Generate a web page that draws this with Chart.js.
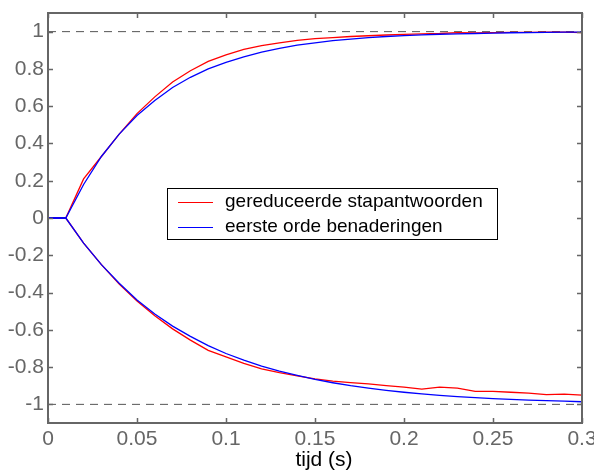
<!DOCTYPE html>
<html>
<head>
<meta charset="utf-8">
<script src="https://cdn.jsdelivr.net/npm/chart.js@4/dist/chart.umd.min.js"></script>
<style>
html, body { margin: 0; padding: 0; background: #fff; }
</style>
</head>
<body>
<canvas id="chart" width="594" height="470"></canvas>
<script>
// time axis (s)
var times = [0, 0.01, 0.02, 0.03, 0.04, 0.05, 0.06, 0.07, 0.08, 0.09, 0.10,
  0.11, 0.12, 0.13, 0.14, 0.15, 0.16, 0.17, 0.18, 0.19, 0.20,
  0.21, 0.22, 0.23, 0.24, 0.25, 0.26, 0.27, 0.28, 0.29, 0.30];

// reduced step responses (red)
var redUp = [0, 0, 0.21, 0.33, 0.45, 0.56, 0.65, 0.73, 0.79, 0.84, 0.875,
  0.905, 0.925, 0.94, 0.953, 0.962, 0.968, 0.974, 0.978, 0.982, 0.985,
  0.988, 0.99, 0.995, 0.993, 0.995, 0.996, 0.996, 0.997, 0.997, 0.995];
var redDown = [0, 0, -0.135, -0.25, -0.355, -0.445, -0.525, -0.595, -0.655, -0.71, -0.745,
  -0.78, -0.81, -0.83, -0.847, -0.863, -0.875, -0.883, -0.89, -0.9, -0.908,
  -0.918, -0.908, -0.913, -0.93, -0.93, -0.935, -0.94, -0.948, -0.945, -0.95];

// first order approximations (blue)
var blueUp = [0, 0, 0.18, 0.33, 0.45, 0.55, 0.63, 0.70, 0.755, 0.80, 0.835,
  0.865, 0.89, 0.91, 0.928, 0.94, 0.952, 0.96, 0.968, 0.974, 0.979,
  0.983, 0.986, 0.988, 0.99, 0.992, 0.994, 0.995, 0.996, 0.997, 0.997];
var blueDown = [0, 0, -0.135, -0.25, -0.35, -0.44, -0.515, -0.58, -0.635, -0.685, -0.727,
  -0.763, -0.795, -0.822, -0.845, -0.866, -0.884, -0.9, -0.913, -0.925, -0.935,
  -0.944, -0.952, -0.958, -0.964, -0.969, -0.973, -0.977, -0.98, -0.983, -0.986];

// reference levels and ticks
var levels = [1, -1];
var xTicks = [0, 0.05, 0.1, 0.15, 0.2, 0.25, 0.3];
var yTicks = [-1, -0.8, -0.6, -0.4, -0.2, 0, 0.2, 0.4, 0.6, 0.8, 1];

var labels = ['gereduceerde stapantwoorden', 'eerste orde benaderingen'];
var xTitle = 'tijd (s)';
var RED = '#ff0000';
var BLUE = '#0000ff';
var GREY = '#666666';
var FONT = '"Liberation Sans", Arial, sans-serif';

//pairs time with values
function pts(vals)
{
  var out = [];
  for (var i = 0; i < vals.length; i++)
  {
    out.push({ x: times[i], y: vals[i] });
  }
  return out;
}

function line(label, vals, color)
{
  return {
    label: label,
    data: pts(vals),
    borderColor: color,
    borderWidth: 1.3,
    pointRadius: 0,
    tension: 0,
    fill: false
  };
}

var datasets = [
  line(labels[1], blueUp, BLUE),
  line(labels[1], blueDown, BLUE),
  line(labels[0], redUp, RED),
  line(labels[0], redDown, RED)
];

// dashed lines at +1 and -1
levels.forEach(function(v) {
  datasets.push({
    label: '',
    data: [{ x: xTicks[0], y: v }, { x: xTicks[xTicks.length - 1], y: v }],
    borderColor: '#555555',
    borderWidth: 1,
    borderDash: [8, 6],
    pointRadius: 0,
    fill: false
  });
});

// draws box, inward ticks, axis title and the legend
var framePlugin = {
  id: 'frame',
  afterDatasetsDraw: function(c)
  {
    var ctx = c.ctx, a = c.chartArea;
    var xs = c.scales.x, ys = c.scales.y;
    ctx.save();
    ctx.strokeStyle = GREY;
    ctx.lineWidth = 1.5;
    ctx.beginPath();
    xs.ticks.forEach(function(t) {
      var px = Math.round(xs.getPixelForValue(t.value)) + 0.5;
      ctx.moveTo(px, a.bottom); ctx.lineTo(px, a.bottom - 5);
      ctx.moveTo(px, a.top); ctx.lineTo(px, a.top + 5);
    });
    ys.ticks.forEach(function(t) {
      var py = Math.round(ys.getPixelForValue(t.value)) + 0.5;
      ctx.moveTo(a.left, py); ctx.lineTo(a.left + 5, py);
      ctx.moveTo(a.right, py); ctx.lineTo(a.right - 5, py);
    });
    ctx.stroke();
    ctx.lineWidth = 2;
    ctx.strokeRect(a.left, a.top, a.right - a.left, a.bottom - a.top);

    // x axis title
    ctx.fillStyle = '#000';
    ctx.font = '21px ' + FONT;
    ctx.textAlign = 'center';
    ctx.textBaseline = 'middle';
    ctx.fillText(xTitle, (a.left + a.right) / 2 + 9, 460);

    // legend
    var bx = 167, by = 188, bw = 330, bh = 51;
    ctx.fillStyle = '#fff';
    ctx.fillRect(bx, by, bw, bh);
    ctx.strokeStyle = '#000';
    ctx.lineWidth = 1;
    ctx.strokeRect(bx + 0.5, by + 0.5, bw, bh);
    var items = [c.data.datasets[2], c.data.datasets[0]];
    ctx.font = '19px ' + FONT;
    ctx.textAlign = 'left';
    items.forEach(function(d, i) {
      var y = by + 14 + i * 25;
      ctx.strokeStyle = d.borderColor;
      ctx.lineWidth = 1;
      ctx.beginPath();
      ctx.moveTo(bx + 11, y + 0.5);
      ctx.lineTo(bx + 46, y + 0.5);
      ctx.stroke();
      ctx.fillStyle = '#000';
      ctx.fillText(d.label, bx + 58, y);
    });
    ctx.restore();
  }
};

var chart = new Chart(document.getElementById('chart'), {
  type: 'line',
  data: { datasets: datasets },
  options: {
    responsive: false,
    animation: false,
    layout: { padding: { top: 13, right: 12, left: 0, bottom: 0 } },
    plugins: { legend: { display: false }, tooltip: { enabled: false } },
    scales: {
      x: {
        type: 'linear',
        min: xTicks[0],
        max: xTicks[xTicks.length - 1],
        grid: { display: false, drawTicks: false },
        border: { display: false },
        afterBuildTicks: function(s) {
          s.ticks = xTicks.map(function(v) { return { value: v }; });
        },
        afterFit: function(s) {
          s.height = 47;
          s.paddingLeft = 0;
          s.paddingRight = 0;
        },
        ticks: {
          autoSkip: false,
          maxRotation: 0,
          padding: 4,
          color: GREY,
          font: { family: FONT, size: 21 },
          callback: function(v) { return String(v); }
        }
      },
      y: {
        type: 'linear',
        min: -1.1,
        max: 1.1,
        grid: { display: false, drawTicks: false },
        border: { display: false },
        afterBuildTicks: function(s) {
          s.ticks = yTicks.map(function(v) { return { value: v }; });
        },
        afterFit: function(s) {
          s.width = 48;
          s.paddingTop = 0;
          s.paddingBottom = 0;
        },
        ticks: {
          autoSkip: false,
          padding: 4,
          color: GREY,
          font: { family: FONT, size: 21 },
          callback: function(v) { return String(v); }
        }
      }
    }
  },
  plugins: [framePlugin]
});
</script>
</body>
</html>
